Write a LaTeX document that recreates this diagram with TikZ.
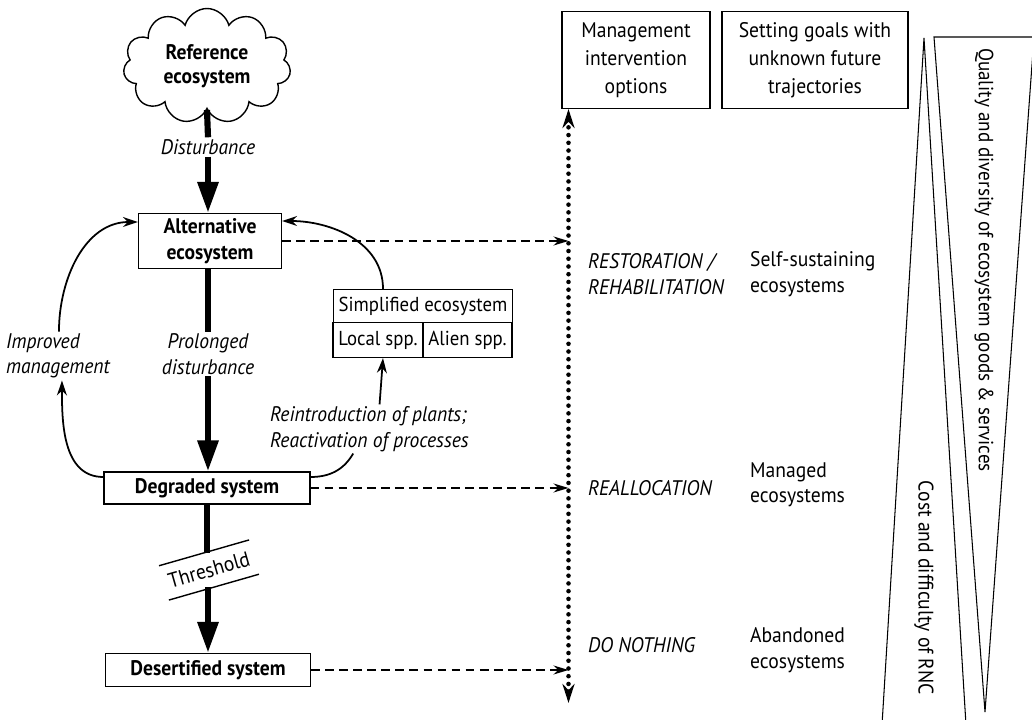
\documentclass[tikz,border=0pt]{standalone}
\usepackage{fontspec}
\setmainfont{PT Sans}[FakeStretch=0.93]
\usetikzlibrary{positioning, shapes.symbols, arrows.meta, calc}

\tikzset{
	txt/.style={font=\fontsize{12}{14.5}\selectfont, align=left, inner sep=1pt},
	ittxt/.style={txt, font=\fontsize{12}{14.5}\selectfont\itshape},
	sysbox/.style={draw, line width=0.7pt, align=center, inner sep=1pt, font=\fontsize{12}{14.5}\selectfont\bfseries},
	infobox/.style={draw, line width=0.7pt, align=center, inner sep=1pt, minimum height=1.94cm, font=\fontsize{12}{16}\selectfont},
	sppbox/.style={draw, line width=0.7pt, inner sep=1pt, font=\fontsize{11.5}{14}\selectfont},
	flow/.style={line width=3.5pt},
	flowarrow/.style={flow, -{Triangle[length=0.62cm, width=0.4cm]}},
	link/.style={line width=1pt, -{Stealth[length=0.3cm, width=0.2cm]}},
	option/.style={line width=0.9pt, dash pattern=on 5pt off 3pt, -{Stealth[length=0.3cm, width=0.18cm]}},
	optaxis/.style={line width=2.6pt, line cap=round, dash pattern=on 0pt off 4.4pt, {Stealth[length=0.38cm, width=0.24cm]}-{Stealth[length=0.38cm, width=0.24cm]}},
	wedge/.style={line width=0.6pt}
}

\begin{document}
\begin{tikzpicture}[x=0.02cm, y=0.02cm]
		\useasboundingbox (0,0) rectangle (1032,720);
		\clip (0,0) rectangle (1032,720);
		\node[cloud, draw, line width=0.8pt, cloud puffs=11, cloud ignores aspect, minimum width=3.35cm, minimum height=2.3cm, inner sep=0pt, align=center, font=\fontsize{12}{14}\selectfont\bfseries] (ref) at (207,654) {Reference\\ecosystem};
		\node[ittxt] (dist) at (208,573) {Disturbance};
		\node[sysbox, minimum width=2.86cm, minimum height=1.1cm] (alt) at (210,479) {Alternative\\ecosystem};
		\node[ittxt, align=center] (prol) at (208,366) {Prolonged\\disturbance};
		\node[sysbox, minimum width=4.12cm, minimum height=0.64cm] (deg) at (207,232) {Degraded system};
		\node[txt, rotate=16, minimum width=1.86cm, minimum height=0.7cm] (thr) at (209,150) {Threshold};
		\node[sysbox, minimum width=4.1cm, minimum height=0.66cm] (des) at (208,50) {Desertified system};
		\node[sppbox, minimum width=3.58cm, minimum height=0.66cm] (simp) at (423,414) {Simplified ecosystem};
		\node[sppbox, minimum width=1.8cm, minimum height=0.7cm] (local) at (378,380) {Local spp.};
		\node[sppbox, minimum width=1.78cm, minimum height=0.7cm] (alien) at (467.5,380) {Alien spp.};
		\node[ittxt, anchor=west] (impr) at (4,364) {Improved\\management};
		\node[ittxt, anchor=west] (reint) at (268,291) {Reintroduction of plants;\\Reactivation of processes};

		\draw[flow] (ref.south) -- (dist.north);
		\draw[flowarrow] (dist.south) -- (dist.south |- alt.north);
		\draw[flow] (prol.north |- alt.south) -- (prol.north);
		\draw[flowarrow] (prol.south) -- (prol.south |- deg.north);
		\draw[flow] (deg.south) -- (deg.south |- thr.north);
		\draw[flowarrow] (des.north |- thr.south) -- (des.north);
		\draw[line width=0.8pt] (thr.north west) -- (thr.north east);
		\draw[line width=0.8pt] (thr.south west) -- (thr.south east);

		\draw[link] ([yshift=0.22cm]deg.west) to[out=180, in=-90] ([xshift=0.08cm]impr.south);
		\draw[link] ([xshift=0.02cm]impr.north) to[out=90, in=180] ([yshift=0.38cm]alt.west);
		\draw[line width=1pt] ([yshift=0.22cm]deg.east) to[out=0, in=-120] ($(reint.south west)!0.42!(reint.south east)$);
		\draw[link] ($(reint.north west)!0.55!(reint.north east)$) -- ([xshift=0.1cm]local.south);
		\draw[link] ([xshift=-0.8cm]simp.north) to[out=90, in=0] ([yshift=0.4cm]alt.east);

		\node[infobox, minimum width=2.96cm] (mio) at (636,660) {Management\\intervention\\options};
		\node[infobox, minimum width=3.72cm] (goals) at (815,660) {Setting goals with\\unknown future\\trajectories};
		\coordinate (axtop) at (568.5,611);
		\coordinate (axbot) at (568.5,17);
		\draw[optaxis] (axbot) -- (axtop);
		\draw[option] (alt.east) -- (alt.east -| axtop);
		\draw[option] (deg.east) -- (deg.east -| axtop);
		\draw[option] (des.east) -- (des.east -| axtop);

		\node[ittxt, anchor=west] (rest) at (586,446) {RESTORATION /\\REHABILITATION};
		\node[txt, anchor=west] (selfs) at (748,446) {Self-sustaining\\ecosystems};
		\node[ittxt, anchor=west] (realloc) at (586,232) {REALLOCATION};
		\node[txt, anchor=west] (managed) at (748,235) {Managed\\ecosystems};
		\node[ittxt, anchor=west] (nothing) at (586,75) {DO NOTHING};
		\node[txt, anchor=west] (aband) at (748,70) {Abandoned\\ecosystems};

		\draw[wedge] (882,-5) -- (924,682) -- (966,-5);
		\draw[wedge] (1034,683) -- (934,683) -- (985,8) -- cycle;
		\node[txt, rotate=-90, font=\fontsize{11.7}{14}\selectfont] (quality) at (984,460) {Quality and diversity of ecosystem goods \& services};
		\node[txt, rotate=-90] (cost) at (924,132) {Cost and difficulty of RNC};
	\end{tikzpicture}
\end{document}
